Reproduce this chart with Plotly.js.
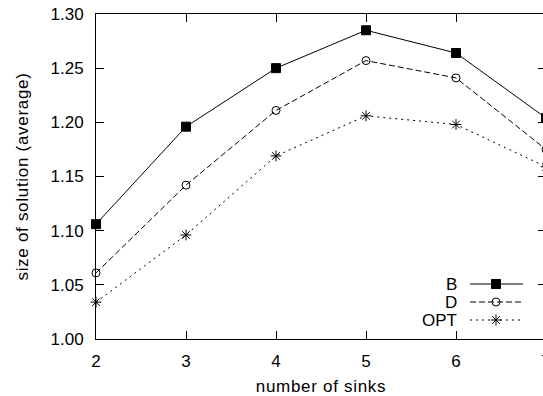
<!DOCTYPE html>
<html>
<head>
<meta charset="utf-8">
<script src="https://cdn.plot.ly/plotly-3.0.1.min.js"></script>
<style>
html, body { margin: 0; padding: 0; overflow: hidden; background: #fff; }
#chart { width: 560px; height: 396px; }
.xtitle, .ytitle { letter-spacing: 0.7px; }
</style>
</head>
<body>
<div id="chart"></div>
<script>
// ---- data ----
const sinks = [2, 3, 4, 5, 6, 7];
const seriesNames = ["B", "D", "OPT"];
const valuesB = [1.106, 1.196, 1.250, 1.285, 1.264, 1.204];
const valuesD = [1.061, 1.142, 1.211, 1.257, 1.241, 1.175];
const valuesOPT = [1.034, 1.096, 1.169, 1.206, 1.198, 1.159];
const xTitle = "number of sinks";
const yTitle = "size of solution (average)";

// ---- styles ----
const FONT = "Liberation Sans, Arial, Helvetica, sans-serif";
const FS = 17;
const styles = [
  { dash: "solid", symbol: "square", size: 9 },
  { dash: "6px,3px", symbol: "circle-open", size: 8 },
  { dash: "2px,4px", symbol: "asterisk-open", size: 9 }
];
const allValues = [valuesB, valuesD, valuesOPT];

const traces = [];
allValues.forEach((vals, i) => {
  const s = styles[i];
  traces.push({
    x: sinks, y: vals, name: seriesNames[i], type: "scatter", mode: "lines+markers",
    cliponaxis: false, showlegend: false,
    line: { color: "#000", width: 1, dash: s.dash },
    marker: { symbol: s.symbol, size: s.size, color: "#000",
              line: { color: "#000", width: 1 } }
  });
});

// ---- key (gnuplot-style: text on the left, sample on the right) ----
// key placement in pixel coordinates of the overlay axes
const keyRows = [284, 302, 320];
const keyX0 = 470, keyX1 = 523, keyXm = 496, keyTextX = 459;
const annotations = [];
seriesNames.forEach((nm, i) => {
  const s = styles[i];
  traces.push({
    x: [keyX0, keyX1], y: [keyRows[i], keyRows[i]], xaxis: "x2", yaxis: "y2",
    type: "scatter", mode: "lines", showlegend: false, hoverinfo: "skip",
    cliponaxis: false,
    line: { color: "#000", width: 1, dash: s.dash }
  });
  traces.push({
    x: [keyXm], y: [keyRows[i]], xaxis: "x2", yaxis: "y2",
    type: "scatter", mode: "markers", showlegend: false, hoverinfo: "skip",
    cliponaxis: false,
    marker: { symbol: s.symbol, size: s.size, color: "#000",
              line: { color: "#000", width: 1 } }
  });
  annotations.push({
    x: keyTextX, y: keyRows[i], xref: "x2", yref: "y2", text: nm,
    showarrow: false, xanchor: "right", yanchor: "middle",
    font: { family: FONT, size: FS, color: "#000" }
  });
});

const axisCommon = {
  showline: true, linecolor: "#000", linewidth: 1, mirror: "ticks",
  ticks: "inside", ticklen: 8, tickwidth: 1, tickcolor: "#000",
  showgrid: false, zeroline: false,
  tickfont: { family: FONT, size: FS, color: "#000" }
};

const layout = {
  width: 560, height: 396,
  margin: { l: 96, r: 14, t: 14, b: 57, pad: 0 },
  paper_bgcolor: "#fff", plot_bgcolor: "#fff",
  font: { family: FONT, size: FS, color: "#000" },
  showlegend: false,
  xaxis: Object.assign({}, axisCommon, {
    range: [2, 7], dtick: 1, tick0: 2, ticklabelstandoff: 7,
    title: { text: xTitle, font: { family: FONT, size: FS, color: "#000" }, standoff: 10 }
  }),
  yaxis: Object.assign({}, axisCommon, {
    range: [1.0, 1.3], dtick: 0.05, tick0: 1.0, tickformat: ".2f", ticklabelstandoff: 8,
    title: { text: yTitle, font: { family: FONT, size: FS, color: "#000" }, standoff: 17 }
  }),
  xaxis2: { overlaying: "x", range: [96, 546], visible: false, fixedrange: true },
  yaxis2: { overlaying: "y", range: [339, 14], visible: false, fixedrange: true },
  annotations: annotations
};

Plotly.newPlot("chart", traces, layout, { displayModeBar: false, staticPlot: true });
</script>
</body>
</html>
